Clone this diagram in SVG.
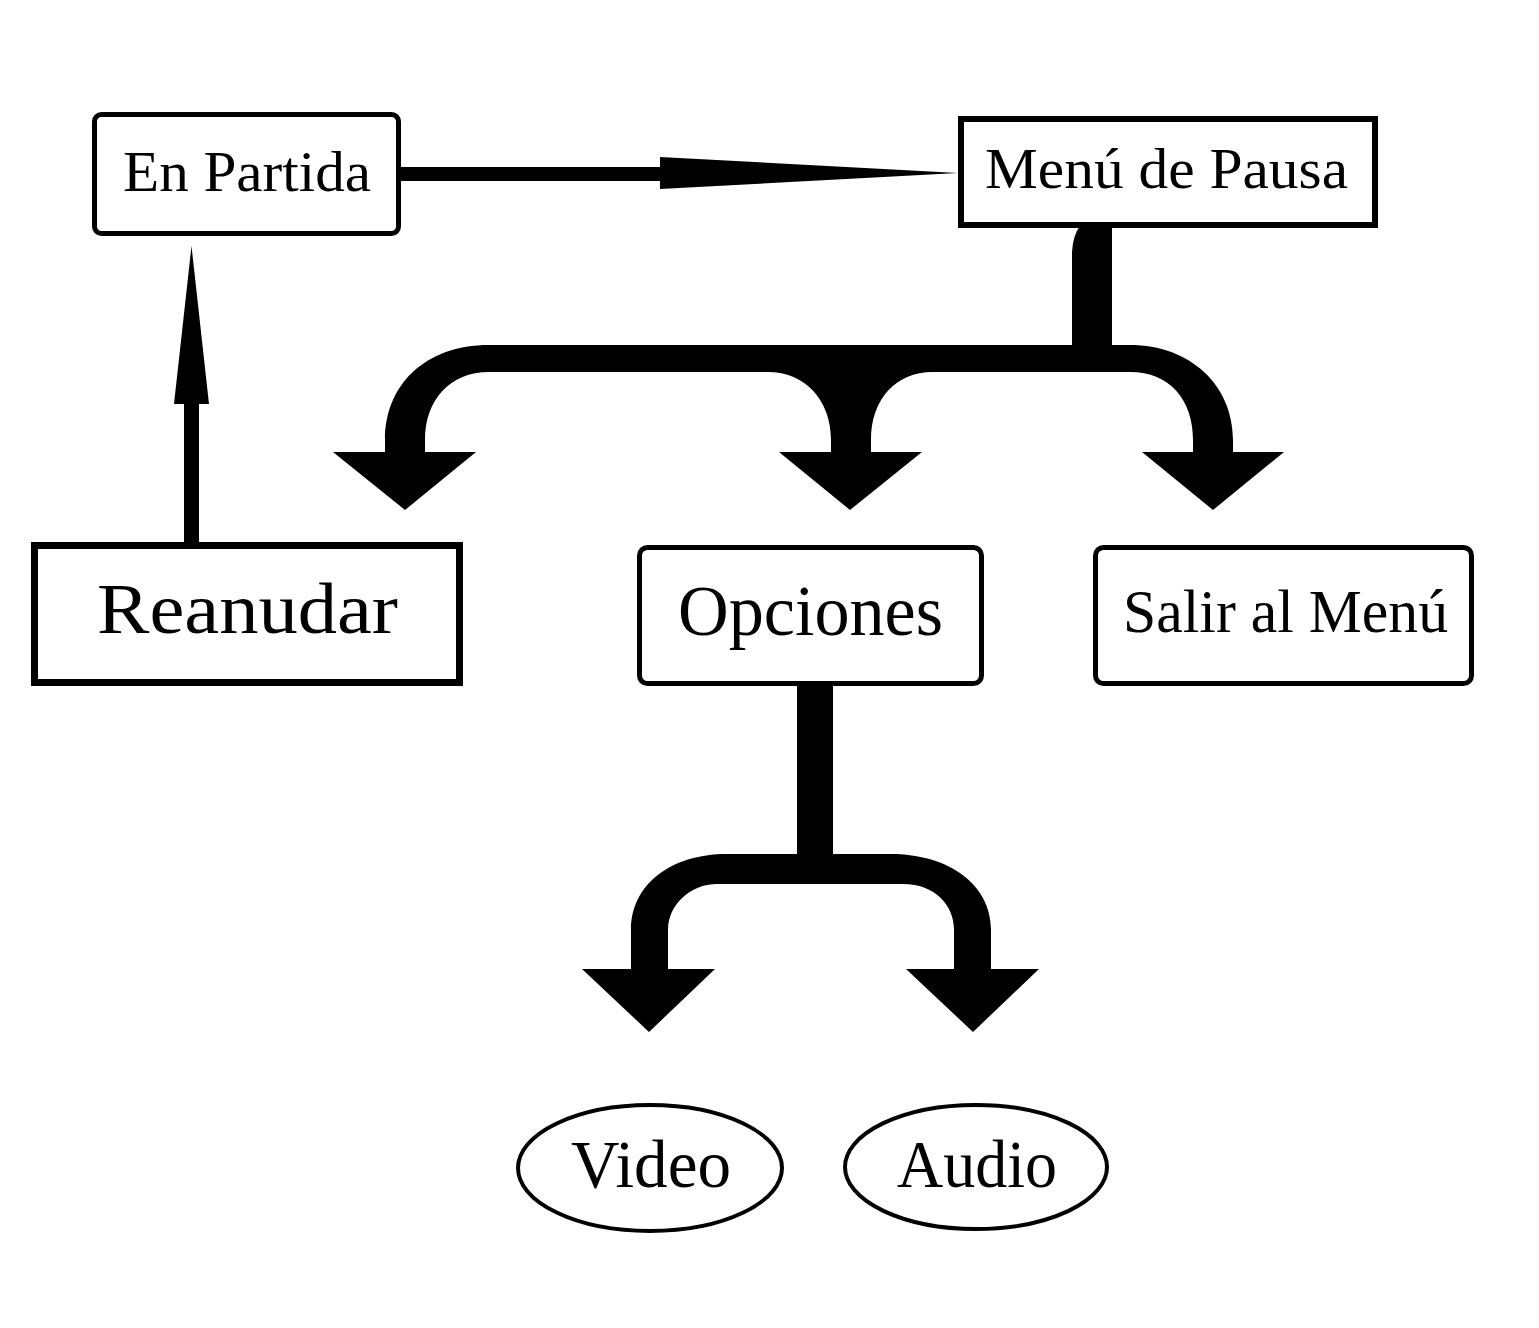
<svg xmlns="http://www.w3.org/2000/svg" width="1539" height="1328" viewBox="0 0 1539 1328">
<style>
.box{fill:#fff;stroke:#000}
.lbl{font-family:"Liberation Serif","Times New Roman",serif;fill:#000;text-anchor:middle}
.conn{fill:#000;stroke:none}
</style>
<rect width="1539" height="1328" fill="#fff"/>
<g id="connectors">
  <rect class="conn" x="400" y="167" width="262" height="14"/>
  <polygon class="conn" points="660,157 660,189 958,173"/>
  <rect class="conn" x="184" y="402" width="15" height="142"/>
  <polygon class="conn" points="174,404 209,404 191.5,246"/>
  <path class="conn" d="M 1080 226 L 1112 226 L 1112 345 L 1130 345 C 1190 345 1233 385 1233 440 L 1233 452 L 1284 452 L 1213 510 L 1142 452 L 1193 452 L 1193 440 C 1193 400 1170 372 1130 372 L 933 372 C 895 372 871 400 871 440 L 871 452 L 922 452 L 850 510 L 779 452 L 831 452 L 831 440 C 831 400 805 372 768 372 L 489 372 C 450 372 425 400 425 440 L 425 452 L 476 452 L 405 510 L 333 452 L 385 452 L 385 440 C 385 385 425 345 489 345 L 1072 345 L 1072 252 Q 1073 235 1080 226 Z"/>
  <path class="conn" d="M 797 684 L 833 684 L 833 854 L 890 854 C 950 854 991 885 991 930 L 991 969 L 1039 969 L 973 1032 L 906 969 L 954 969 L 954 930 C 954 905 935 884 903 884 L 717 884 C 690 884 668 905 668 930 L 668 969 L 715 969 L 649 1032 L 582 969 L 631 969 L 631 930 C 631 885 670 854 727 854 L 797 854 Z"/>
</g>
<g id="en-partida">
  <rect class="box" x="94.5" y="114.5" width="304" height="119" rx="7" stroke-width="5"/>
  <text class="lbl" x="247" y="191" font-size="58" textLength="248" lengthAdjust="spacingAndGlyphs">En Partida</text>
</g>
<g id="menu-pausa">
  <rect class="box" x="961" y="119" width="414" height="106" stroke-width="6"/>
  <text class="lbl" x="1166.5" y="188" font-size="58" textLength="363" lengthAdjust="spacingAndGlyphs">Menú de Pausa</text>
</g>
<g id="reanudar">
  <rect class="box" x="34.5" y="545.5" width="425" height="137" stroke-width="7"/>
  <text class="lbl" x="247.5" y="633" font-size="72" textLength="301" lengthAdjust="spacingAndGlyphs">Reanudar</text>
</g>
<g id="opciones">
  <rect class="box" x="639.5" y="547.5" width="342" height="136" rx="8" stroke-width="5"/>
  <text class="lbl" x="810.5" y="635" font-size="71" textLength="265" lengthAdjust="spacingAndGlyphs">Opciones</text>
</g>
<g id="salir">
  <rect class="box" x="1095.5" y="547.5" width="376" height="136" rx="8" stroke-width="5"/>
  <text class="lbl" x="1285.5" y="632" font-size="61" textLength="325" lengthAdjust="spacingAndGlyphs">Salir al Menú</text>
</g>
<g id="video">
  <ellipse class="box" cx="650" cy="1168" rx="132" ry="63" stroke-width="4"/>
  <text class="lbl" x="651" y="1187" font-size="68" textLength="160" lengthAdjust="spacingAndGlyphs">Video</text>
</g>
<g id="audio">
  <ellipse class="box" cx="976" cy="1167" rx="131" ry="62" stroke-width="4"/>
  <text class="lbl" x="977" y="1187" font-size="68" textLength="160" lengthAdjust="spacingAndGlyphs">Audio</text>
</g>
</svg>
